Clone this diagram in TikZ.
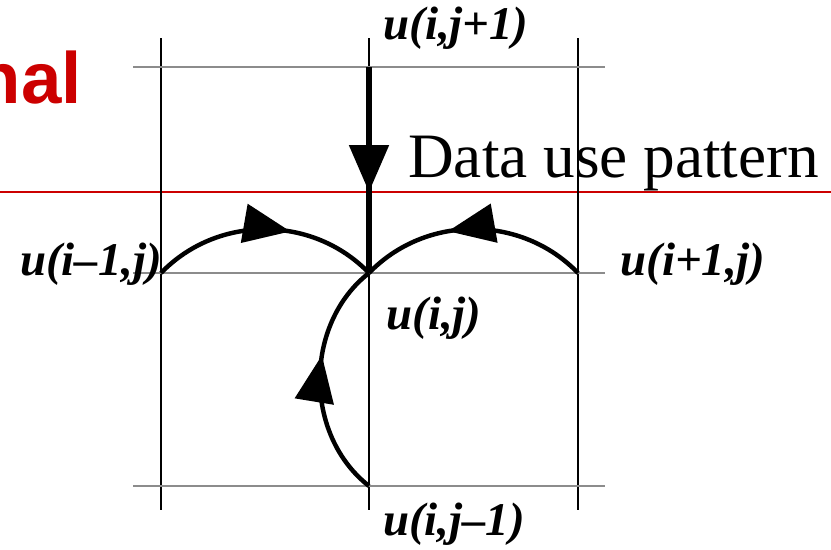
\documentclass[tikz,border=0pt]{standalone}
\usepackage{fontspec}
\setmainfont{Liberation Serif}
\newfontfamily\headfont{Liberation Sans}
\usetikzlibrary{arrows.meta}
\usetikzlibrary{decorations.markings}
\definecolor{slidered}{RGB}{204,0,0}

\begin{document}
\begin{tikzpicture}[
    x=0.03cm, y=-0.03cm,
    grid/.style={line width=1pt, black},
    hgrid/.style={line width=1pt, black!45},
    lbl/.style={font=\fontsize{40}{42}\selectfont\bfseries\itshape, inner sep=0pt},
    flow/.style={line width=3.8pt, postaction={decorate},
        decoration={markings, mark=at position #1 with {\arrow{Triangle[length=40pt,width=33pt]}}}},
    flow/.default=0.6
]
    \useasboundingbox (0,0) rectangle (831,549);

    % Heading remains and caption
    \node[anchor=base east, inner sep=0pt, text=slidered,
        font=\headfont\fontsize{62}{64}\selectfont\bfseries] (head) at (82,103) {nal};
    \node[anchor=base west, inner sep=0pt, font=\fontsize{54}{58}\selectfont] (cap) at (408,177) {Data use pattern};
    \draw[slidered, line width=2pt] (0,192) -- (831,192);

    % Grid points
    \coordinate (c) at (369,273);
    \coordinate (n) at (369,67);
    \coordinate (s) at (369,486);
    \coordinate (w) at (161,273);
    \coordinate (e) at (578,273);

    % Grid lines
    \foreach \gx in {161,369,578}
        \draw[grid] (\gx,38) -- (\gx,510);
    \foreach \gy in {67,273,486}
        \draw[hgrid] (133,\gy) -- (605,\gy);

    % Labels
    \node[lbl] (un) at (456,28) {u(i,j+1)};
    \node[lbl] (uw) at (91,264) {u(i–1,j)};
    \node[lbl] (ue) at (693,264) {u(i+1,j)};
    \node[lbl] (uc) at (434,318) {u(i,j)};
    \node[lbl] (us) at (454,524) {u(i,j–1)};

    % Data flow into u(i,j)
    \draw[flow=0.607, line width=5pt] (n) -- (c);
    \draw[flow=0.61] (w) to[bend left=46] (c);
    \draw[flow=0.61] (e) to[bend right=46] (c);
    \draw[flow=0.6] (s) to[bend left=52] (c);
\end{tikzpicture}
\end{document}
